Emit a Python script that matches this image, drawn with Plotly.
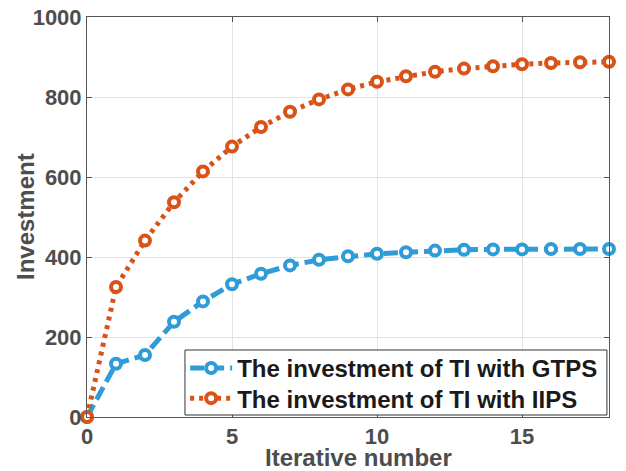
import plotly.graph_objects as go

iterations = list(range(19))
gtps = [0, 133, 155, 238, 289, 332, 358, 379, 393, 402, 408, 412, 416, 418, 419, 419, 420, 420, 420]
iips = [0, 325, 441, 537, 614, 676, 725, 763, 794, 819, 838, 852, 863, 871, 877, 882, 885, 887, 888]
names = ["The investment of TI with GTPS", "The investment of TI with IIPS"]
x_ticks = [0, 5, 10, 15]
y_ticks = [0, 200, 400, 600, 800, 1000]

blue = "#2f9bd7"
orange = "#d95319"
FAM = "Liberation Sans, Arial, sans-serif"

fig = go.Figure()
fig.add_trace(go.Scatter(
    x=iterations, y=gtps, name=names[0], mode="lines+markers",
    line=dict(color=blue, width=5, dash="14px,6px"),
    marker=dict(symbol="circle", size=10, color="white", line=dict(color=blue, width=4)),
    cliponaxis=False, legend="legend",
))
fig.add_trace(go.Scatter(
    x=iterations, y=iips, name=names[1], mode="lines+markers",
    line=dict(color=orange, width=5, dash="4px,5px"),
    marker=dict(symbol="circle", size=10, color="white", line=dict(color=orange, width=4)),
    cliponaxis=False, legend="legend2",
))

tick_font = dict(family=FAM, size=22, color="#4d4d4d", weight="bold")

fig.update_xaxes(
    range=[0, 18], tickvals=x_ticks, ticks="inside", ticklen=5, tickcolor="#555",
    showline=True, linecolor="#555", linewidth=1, mirror="allticks",
    showgrid=True, gridcolor="#e3e3e3", gridwidth=1, zeroline=False,
    tickfont=tick_font, ticklabeloverflow="allow",
)
fig.update_yaxes(
    range=[0, 1000], tickvals=y_ticks, ticks="inside", ticklen=5, tickcolor="#555",
    showline=True, linecolor="#555", linewidth=1, mirror="allticks",
    showgrid=True, gridcolor="#e3e3e3", gridwidth=1, zeroline=False,
    tickfont=tick_font, ticklabeloverflow="allow",
)

fig.add_annotation(
    text="Iterative number", xref="paper", yref="paper", x=0.52, y=0, yshift=-40,
    xanchor="center", yanchor="middle", showarrow=False,
    font=dict(family=FAM, size=24, color="#4d4d4d", weight="bold"),
)
fig.add_annotation(
    text="Investment", xref="paper", yref="paper", x=0, xshift=-62, y=0.5,
    xanchor="center", yanchor="middle", showarrow=False, textangle=-90,
    font=dict(family=FAM, size=24, color="#4d4d4d", weight="bold"),
)

# legend frame
fig.add_shape(
    type="rect", xref="paper", yref="paper",
    x0=0.1877, x1=0.996, y0=0.005, y1=0.1675,
    line=dict(color="#333", width=1), fillcolor="white", layer="above",
)

leg_common = dict(
    xanchor="left", yanchor="middle", bgcolor="rgba(0,0,0,0)", borderwidth=0,
    font=dict(family=FAM, size=24, color="#1a1a1a", weight="bold"),
    itemwidth=42,
)

fig.update_layout(
    width=626, height=471,
    margin=dict(l=87, r=17, t=5, b=54),
    plot_bgcolor="white", paper_bgcolor="white",
    showlegend=True,
    legend=dict(x=0.188, y=0.1214, **leg_common),
    legend2=dict(x=0.188, y=0.0461, **leg_common),
)

fig.write_html("out.html", config={"displayModeBar": False},
               post_script="document.body.style.margin='0';")
